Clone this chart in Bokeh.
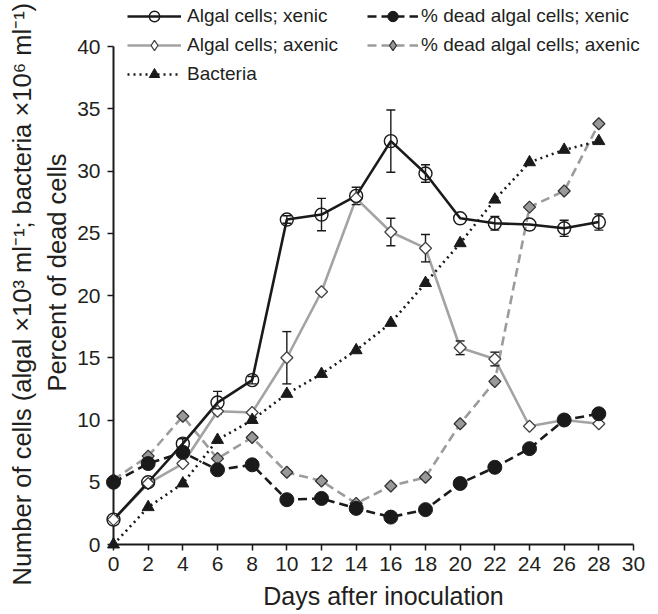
import math
from bokeh.plotting import figure
from bokeh.models import (ColumnDataSource, Whisker, TeeHead, Legend, LegendItem,
                          FixedTicker, Range1d, Title)
from bokeh.embed import file_html
from bokeh.resources import INLINE

# ---------------- data ----------------
days = [0, 2, 4, 6, 8, 10, 12, 14, 16, 18, 20, 22, 24, 26, 28]
algal_xenic = [2.0, 5.0, 8.1, 11.4, 13.2, 26.1, 26.5, 28.0, 32.4, 29.8, 26.2, 25.8, 25.7, 25.4, 25.9]
algal_xenic_err = [0, 0, 0.4, 0.9, 0.3, 0.3, 1.3, 0.7, 2.5, 0.7, 0, 0.55, 0, 0.65, 0.65]
algal_axenic = [2.0, 4.9, 6.5, 10.7, 10.6, 15.0, 20.3, 27.8, 25.1, 23.8, 15.8, 14.9, 9.5, 10.0, 9.7]
algal_axenic_err = [0, 0, 0, 0, 0, 2.1, 0, 0, 1.1, 1.1, 0.55, 0.55, 0, 0.35, 0]
dead_xenic = [5.0, 6.5, 7.4, 6.0, 6.4, 3.6, 3.7, 2.9, 2.2, 2.8, 4.9, 6.2, 7.7, 10.0, 10.5]
dead_axenic = [5.2, 7.1, 10.3, 6.9, 8.6, 5.8, 5.1, 3.3, 4.7, 5.4, 9.7, 13.1, 27.1, 28.4, 33.8]
bacteria = [0.0, 3.0, 4.9, 8.4, 10.0, 12.1, 13.7, 15.6, 17.8, 21.0, 24.2, 27.7, 30.7, 31.7, 32.4]

x_ticks = list(range(0, 31, 2))
y_ticks = list(range(0, 41, 5))
x_axis_max = 30
y_axis_max = 40

labels = ["Algal cells; xenic", "Algal cells; axenic", "Bacteria",
          "% dead algal cells; xenic", "% dead algal cells; axenic"]
x_label = "Days after inoculation"
y_label_1 = "Number of cells (algal \u00d710\u00b3 ml\u207b\u00b9; bacteria \u00d710\u2076 ml\u207b\u00b9)"
y_label_2 = "Percent of dead cells"

FONT = "Liberation Sans"
TXT = "#231f20"
BLACK = "#1a1a1a"
GRAY = "#a3a3a3"

# frame: axis 0..30 spans 520 px (+20 px spare on the right for the legend);
# axis 0..40 spans 498 px (+46 px spare above for the legend)
FRAME_W, AXIS_W = 540, 520
FRAME_H, AXIS_H = 544, 498
p = figure(frame_width=FRAME_W, frame_height=FRAME_H, min_border_left=113, min_border_right=0,
           min_border_top=0, min_border_bottom=69,
           x_range=Range1d(0, x_axis_max * FRAME_W / AXIS_W),
           y_range=Range1d(0, y_axis_max * FRAME_H / AXIS_H),
           output_backend="svg", toolbar_location=None, background_fill_color="white")
p.outline_line_color = None
p.xgrid.visible = False
p.ygrid.visible = False

src = ColumnDataSource(dict(days=days, ax=algal_xenic, an=algal_axenic, dx=dead_xenic,
                            dn=dead_axenic, b=bacteria))

AN_STYLE = dict(fill_color="white", line_color="#444444", line_width=1.3)
DN_STYLE = dict(fill_color="#999999", line_color="#333333", line_width=1.3)

# legend keys drawn as diamonds (zero size on the plot itself; the real
# markers below are drawn on top at the same points)
k_an = p.scatter("days", "an", source=src, marker="diamond", size=0, **AN_STYLE)
k_dn = p.scatter("days", "dn", source=src, marker="diamond", size=0, **DN_STYLE)

# lines
l_an = p.line("days", "an", source=src, line_color=GRAY, line_width=2.6, level="annotation")
l_dn = p.line("days", "dn", source=src, line_color="#9c9c9c", line_width=2.6, line_dash="9 5", level="annotation")
l_b = p.line("days", "b", source=src, line_color=BLACK, line_width=2.6, line_dash="2 4", level="annotation")
l_ax = p.line("days", "ax", source=src, line_color=BLACK, line_width=2.6, level="annotation")
l_dx = p.line("days", "dx", source=src, line_color=BLACK, line_width=2.6, line_dash="9 5", level="annotation")


def err_src(vals, errs):
    xs, up, lo = [], [], []
    for d, v, e in zip(days, vals, errs):
        if e > 0:
            xs.append(d)
            up.append(v + e)
            lo.append(v - e)
    return ColumnDataSource(dict(x=xs, upper=up, lower=lo))


for vals, errs in ((algal_axenic, algal_axenic_err), (algal_xenic, algal_xenic_err)):
    w = Whisker(source=err_src(vals, errs), base="x", upper="upper", lower="lower",
                dimension="height", line_color=BLACK, line_width=1.4, level="annotation",
                upper_head=TeeHead(size=9, line_color=BLACK, line_width=1.4),
                lower_head=TeeHead(size=9, line_color=BLACK, line_width=1.4))
    p.add_layout(w)

# markers
s_an = p.scatter("days", "an", source=src, marker="square", angle=math.pi / 4, size=8.5,
                 level="overlay", **AN_STYLE)
s_dn = p.scatter("days", "dn", source=src, marker="square", angle=math.pi / 4, size=8.5,
                 level="overlay", **DN_STYLE)
s_b = p.scatter("days", "b", source=src, marker="triangle", size=12,
                fill_color=BLACK, line_color=BLACK, level="overlay")
s_ax = p.scatter("days", "ax", source=src, marker="circle", size=13,
                 fill_alpha=0, line_color=BLACK, line_width=1.4, level="overlay")
s_dx = p.scatter("days", "dx", source=src, marker="circle", size=14,
                 fill_color=BLACK, line_color=BLACK, level="overlay")

# axes
p.xaxis.ticker = FixedTicker(ticks=x_ticks)
p.yaxis.ticker = FixedTicker(ticks=y_ticks)
p.xaxis.bounds = (0, x_axis_max)
p.yaxis.bounds = (0, y_axis_max)
p.xaxis.axis_label = x_label
for ax in (p.xaxis[0], p.yaxis[0]):
    ax.axis_line_width = 2
    ax.axis_line_color = BLACK
    ax.major_tick_line_width = 1.5
    ax.major_tick_line_color = BLACK
    ax.major_tick_out = 6
    ax.major_tick_in = 0
    ax.minor_tick_line_color = None
    ax.major_label_text_font = FONT
    ax.major_label_text_font_size = "21px"
    ax.major_label_text_color = TXT
    ax.axis_label_text_font = FONT
    ax.axis_label_text_font_size = "25px"
    ax.axis_label_text_font_style = "normal"
    ax.axis_label_text_color = TXT
p.xaxis.major_label_standoff = 6
p.xaxis.axis_label_standoff = 8
p.yaxis.major_label_standoff = 7

# two-line y label as side titles (inner line added first)
t2 = Title(text=y_label_2, align="center", standoff=7, text_font=FONT,
           text_font_size="25.5px", text_font_style="normal", text_color=TXT)
t1 = Title(text=y_label_1, align="left", offset=-41, standoff=3, text_font=FONT,
           text_font_size="25.5px", text_font_style="normal", text_color=TXT)
p.add_layout(t2, "left")
p.add_layout(t1, "left")


def make_legend(items, loc, gw, standoff):
    lg = Legend(items=items, location=loc, orientation="vertical", padding=0, margin=0,
                spacing=3, glyph_width=gw, glyph_height=26, label_height=21,
                label_standoff=standoff, label_text_font=FONT, label_text_font_size="19px",
                label_text_color=TXT, border_line_color=None, background_fill_alpha=0)
    return lg


leg1 = make_legend([LegendItem(label=labels[0], renderers=[l_ax, s_ax]),
                    LegendItem(label=labels[1], renderers=[l_an, k_an]),
                    LegendItem(label=labels[2], renderers=[l_b, s_b])], (14, 457), 54, 6)
leg2 = make_legend([LegendItem(label=labels[3], renderers=[l_dx, s_dx]),
                    LegendItem(label=labels[4], renderers=[l_dn, k_dn])], (254, 486), 51, 3)
p.add_layout(leg1)
p.add_layout(leg2)

open("out.html", "w").write(file_html(p, INLINE))
